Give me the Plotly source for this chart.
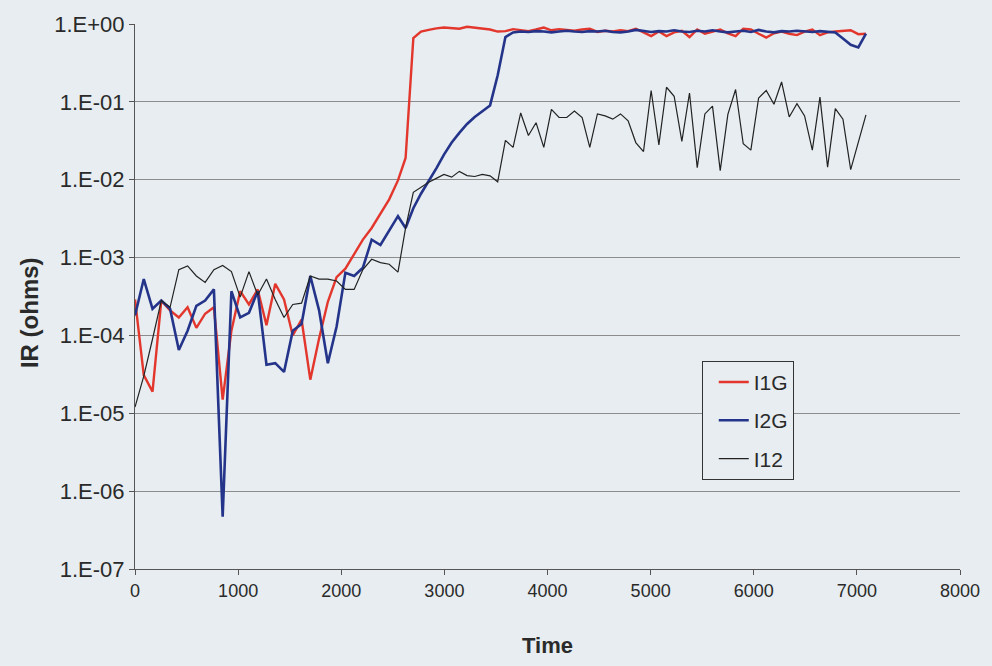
import plotly.graph_objects as go

# Sample times (s): ~85 s spacing early in the run, ~74 s later
time_s = [
    0, 85, 170, 255, 340, 425, 510, 595, 680, 765, 850, 935, 1020, 1105, 1190,
    1275, 1360, 1445, 1530, 1615, 1700, 1785, 1870, 1955, 2040, 2125, 2210,
    2295, 2380, 2465, 2550,
    2624, 2699, 2773, 2848, 2922, 2996, 3071, 3145, 3220, 3294, 3368, 3443,
    3517, 3592, 3666, 3740, 3815, 3889, 3964, 4038, 4112, 4187, 4261, 4336,
    4410, 4484, 4559, 4633, 4708, 4782, 4856, 4931, 5005, 5080, 5154, 5228,
    5303, 5377, 5452, 5526, 5600, 5675, 5749, 5824, 5898, 5972, 6047, 6121,
    6196, 6270, 6344, 6419, 6493, 6568, 6642, 6716, 6791, 6865, 6940, 7014,
    7088,
]

# Insulation resistance, conductor 1 to ground
ir_i1g = [
    2.9e-4, 3.1e-5, 1.9e-5, 2.8e-4, 2.1e-4, 1.7e-4, 2.3e-4, 1.25e-4, 1.9e-4,
    2.3e-4, 1.5e-5, 1.15e-4, 3.7e-4, 2.5e-4, 3.9e-4, 1.35e-4, 4.6e-4, 2.9e-4,
    1.0e-4, 1.6e-4, 2.7e-5, 9.1e-5, 2.7e-4, 5.6e-4, 7.2e-4, 1.1e-3, 1.7e-3,
    2.4e-3, 3.7e-3, 5.6e-3, 9.8e-3,
    0.019, 0.66, 0.80, 0.84, 0.88, 0.90, 0.88, 0.87, 0.92, 0.89, 0.87, 0.85,
    0.80, 0.81, 0.86, 0.84, 0.81, 0.85, 0.90, 0.83, 0.86, 0.84, 0.82, 0.85,
    0.87, 0.79, 0.82, 0.80, 0.83, 0.81, 0.87, 0.78, 0.70, 0.80, 0.70, 0.78,
    0.82, 0.68, 0.85, 0.75, 0.80, 0.85, 0.76, 0.70, 0.87, 0.85, 0.75, 0.67,
    0.76, 0.80, 0.75, 0.72, 0.80, 0.85, 0.72, 0.78, 0.80, 0.82, 0.83, 0.74,
    0.75,
]

# Insulation resistance, conductor 2 to ground
ir_i2g = [
    1.8e-4, 5.3e-4, 2.2e-4, 2.8e-4, 2.2e-4, 6.5e-5, 1.15e-4, 2.4e-4, 2.8e-4,
    3.9e-4, 4.7e-7, 3.7e-4, 1.7e-4, 1.95e-4, 3.7e-4, 4.2e-5, 4.4e-5, 3.4e-5,
    1.15e-4, 1.4e-4, 5.8e-4, 2.1e-4, 4.4e-5, 1.3e-4, 6.4e-4, 5.8e-4, 7.4e-4,
    1.7e-3, 1.45e-3, 2.2e-3, 3.4e-3,
    2.4e-3, 4.3e-3, 6.6e-3, 0.0095, 0.014, 0.021, 0.030, 0.040, 0.052, 0.064,
    0.075, 0.090, 0.22, 0.68, 0.78, 0.80, 0.79, 0.81, 0.80, 0.78, 0.80, 0.82,
    0.80, 0.79, 0.81, 0.80, 0.82, 0.79, 0.78, 0.80, 0.84, 0.82, 0.79, 0.81,
    0.80, 0.83, 0.80, 0.79, 0.82, 0.80, 0.83, 0.80, 0.78, 0.80, 0.82, 0.79,
    0.84, 0.80, 0.78, 0.81, 0.80, 0.82, 0.80, 0.79, 0.81, 0.80, 0.78, 0.65,
    0.54, 0.50, 0.75,
]

# Insulation resistance, conductor 1 to conductor 2
ir_i12 = [
    1.2e-5, 3.0e-5, 9.0e-5, 2.8e-4, 2.3e-4, 7.0e-4, 7.8e-4, 5.8e-4, 4.8e-4,
    7.0e-4, 7.9e-4, 6.6e-4, 3.1e-4, 6.6e-4, 3.3e-4, 5.3e-4, 2.9e-4, 1.7e-4,
    2.5e-4, 2.6e-4, 5.8e-4, 5.3e-4, 5.3e-4, 5.0e-4, 3.9e-4, 3.9e-4, 7.0e-4,
    9.5e-4, 8.6e-4, 8.2e-4, 6.5e-4,
    2.4e-3, 6.9e-3, 8.1e-3, 9.3e-3, 0.0104, 0.0117, 0.0108, 0.0128, 0.0113,
    0.0110, 0.0117, 0.0112, 0.0094, 0.032, 0.026, 0.072, 0.037, 0.054, 0.026,
    0.080, 0.063, 0.063, 0.076, 0.063, 0.026, 0.070, 0.066, 0.060, 0.070,
    0.057, 0.030, 0.023, 0.14, 0.028, 0.154, 0.118, 0.031, 0.13, 0.0143,
    0.070, 0.088, 0.0131, 0.069, 0.144, 0.029, 0.024, 0.112, 0.14, 0.093,
    0.18, 0.064, 0.095, 0.066, 0.024, 0.115, 0.0145, 0.082, 0.060, 0.0135,
    0.030, 0.068,
]

y_tick_vals = [1e-7, 1e-6, 1e-5, 1e-4, 1e-3, 1e-2, 1e-1, 1e0]
y_tick_text = ["1.E-07", "1.E-06", "1.E-05", "1.E-04", "1.E-03", "1.E-02",
               "1.E-01", "1.E+00"]

BG = "#e7edf0"
FONT = "Liberation Sans, Arial, sans-serif"

fig = go.Figure()
fig.add_trace(go.Scatter(x=time_s, y=ir_i1g, mode="lines", name="I1G",
                         legendgroup="a",
                         line=dict(color="#e3362c", width=2.4)))
fig.add_trace(go.Scatter(x=time_s, y=ir_i2g, mode="lines", name="I2G",
                         legendgroup="b",
                         line=dict(color="#24348a", width=2.6)))
fig.add_trace(go.Scatter(x=time_s, y=ir_i12, mode="lines", name="I12",
                         legendgroup="c",
                         line=dict(color="#222222", width=1.2)))

# Vertical axis title, placed as a rotated annotation
fig.add_annotation(text="<b>IR (ohms)</b>", textangle=-90,
                   xref="paper", yref="paper", x=-0.127, y=0.47,
                   xanchor="center", yanchor="middle", showarrow=False,
                   font=dict(family=FONT, size=24, color="#2a2a2a"))

fig.update_layout(
    width=992, height=666,
    margin=dict(l=135, r=29, t=22, b=93),
    paper_bgcolor=BG, plot_bgcolor=BG,
    font=dict(family=FONT, size=18, color="#2a2a2a"),
    showlegend=True,
    legend=dict(x=0.687, y=0.382, xanchor="left", yanchor="top",
                bgcolor=BG, bordercolor="#333333", borderwidth=1,
                traceorder="grouped", tracegroupgap=8, indentation=11,
                font=dict(family=FONT, size=21, color="#2a2a2a")),
    xaxis=dict(
        range=[0, 8000], tickvals=[0, 1000, 2000, 3000, 4000, 5000, 6000,
                                   7000, 8000],
        showgrid=False, zeroline=False,
        showline=True, linecolor="#555555", linewidth=1,
        ticks="outside", ticklen=5, tickcolor="#555555",
        tickfont=dict(size=18),
        title=dict(text="<b>Time</b>", font=dict(size=22), standoff=38),
    ),
    yaxis=dict(
        type="log", range=[-7, 0],
        tickvals=y_tick_vals, ticktext=y_tick_text,
        showgrid=True, gridcolor="#8c8c8c", gridwidth=1,
        zeroline=False,
        showline=True, linecolor="#555555", linewidth=1,
        ticks="outside", ticklen=5, tickcolor="#555555",
        tickfont=dict(size=22),
    ),
)

fig.write_html("out.html")
